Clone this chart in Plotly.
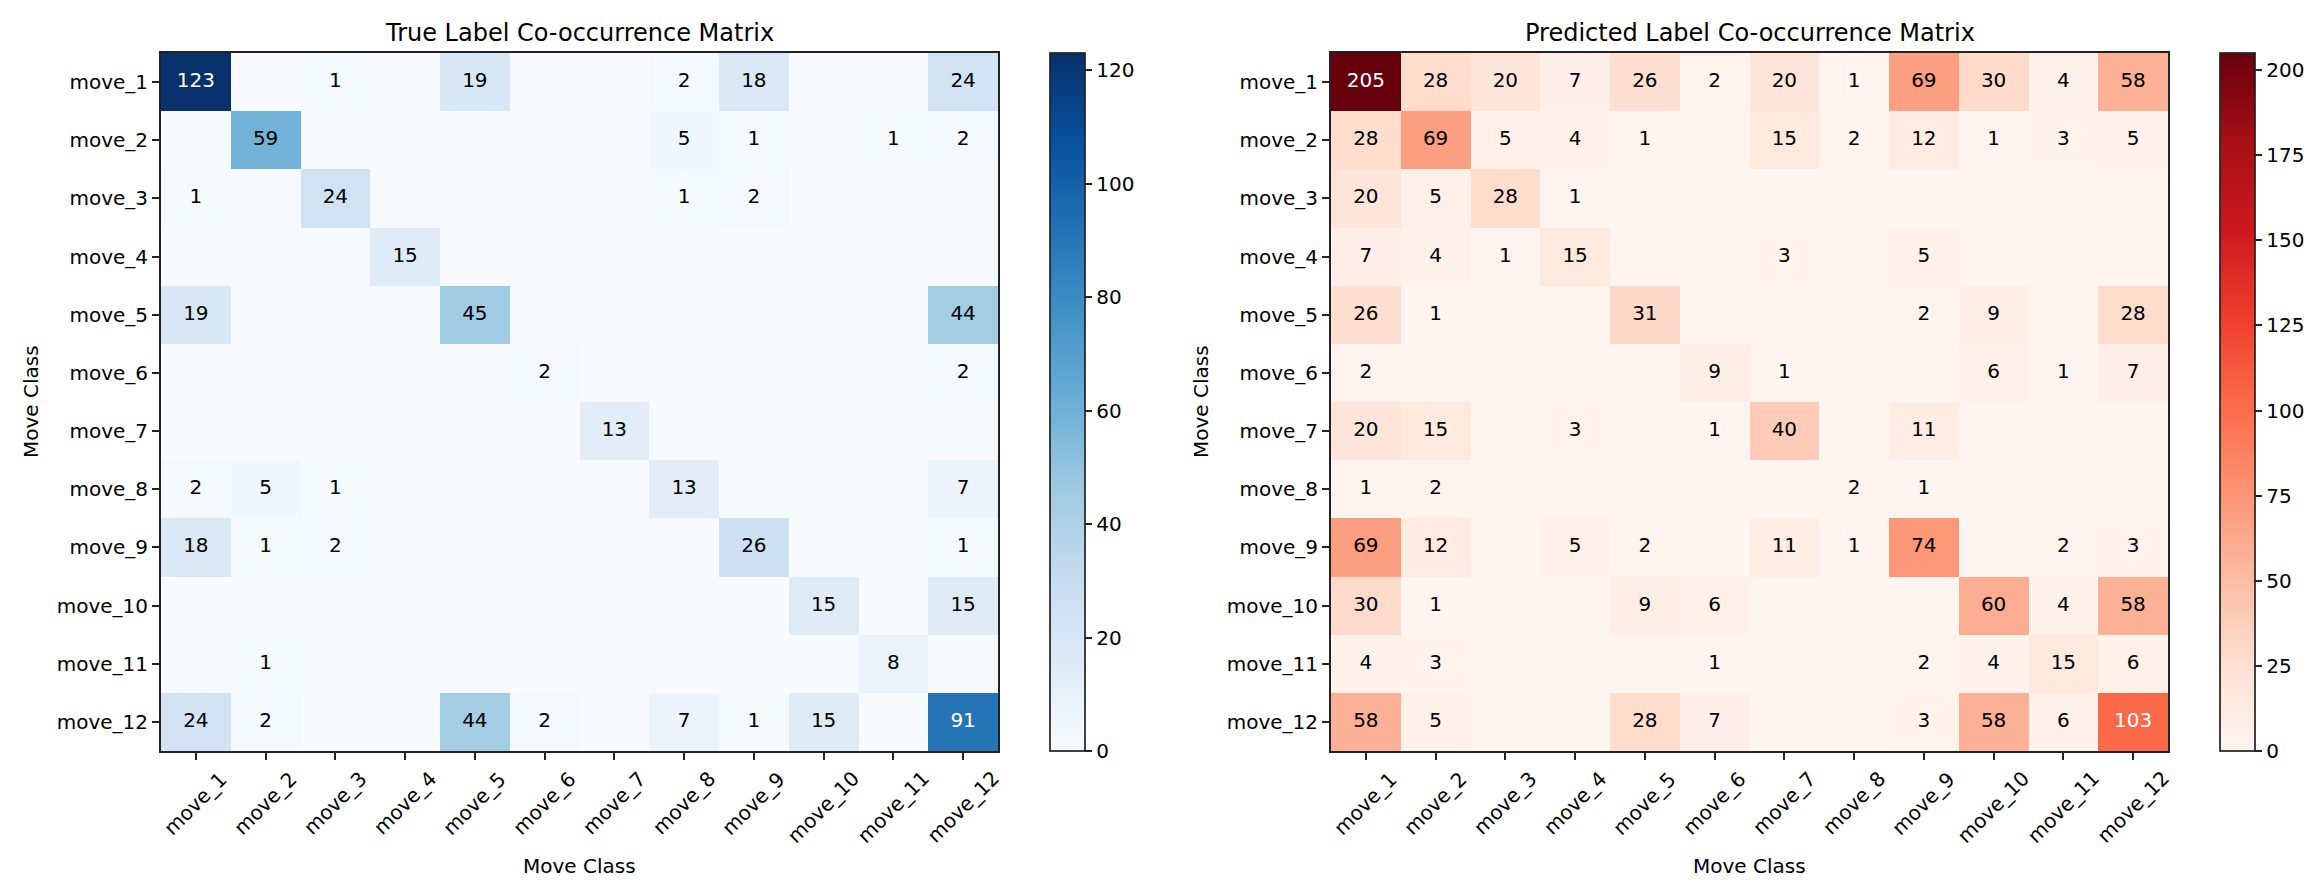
import plotly.graph_objects as go

labels = [f"move_{i}" for i in range(1, 13)]

true_matrix = [
    [123, 0, 1, 0, 19, 0, 0, 2, 18, 0, 0, 24],
    [0, 59, 0, 0, 0, 0, 0, 5, 1, 0, 1, 2],
    [1, 0, 24, 0, 0, 0, 0, 1, 2, 0, 0, 0],
    [0, 0, 0, 15, 0, 0, 0, 0, 0, 0, 0, 0],
    [19, 0, 0, 0, 45, 0, 0, 0, 0, 0, 0, 44],
    [0, 0, 0, 0, 0, 2, 0, 0, 0, 0, 0, 2],
    [0, 0, 0, 0, 0, 0, 13, 0, 0, 0, 0, 0],
    [2, 5, 1, 0, 0, 0, 0, 13, 0, 0, 0, 7],
    [18, 1, 2, 0, 0, 0, 0, 0, 26, 0, 0, 1],
    [0, 0, 0, 0, 0, 0, 0, 0, 0, 15, 0, 15],
    [0, 1, 0, 0, 0, 0, 0, 0, 0, 0, 8, 0],
    [24, 2, 0, 0, 44, 2, 0, 7, 1, 15, 0, 91],
]

pred_matrix = [
    [205, 28, 20, 7, 26, 2, 20, 1, 69, 30, 4, 58],
    [28, 69, 5, 4, 1, 0, 15, 2, 12, 1, 3, 5],
    [20, 5, 28, 1, 0, 0, 0, 0, 0, 0, 0, 0],
    [7, 4, 1, 15, 0, 0, 3, 0, 5, 0, 0, 0],
    [26, 1, 0, 0, 31, 0, 0, 0, 2, 9, 0, 28],
    [2, 0, 0, 0, 0, 9, 1, 0, 0, 6, 1, 7],
    [20, 15, 0, 3, 0, 1, 40, 0, 11, 0, 0, 0],
    [1, 2, 0, 0, 0, 0, 0, 2, 1, 0, 0, 0],
    [69, 12, 0, 5, 2, 0, 11, 1, 74, 0, 2, 3],
    [30, 1, 0, 0, 9, 6, 0, 0, 0, 60, 4, 58],
    [4, 3, 0, 0, 0, 1, 0, 0, 2, 4, 15, 6],
    [58, 5, 0, 0, 28, 7, 0, 0, 3, 58, 6, 103],
]

blues = ['rgb(247,251,255)', 'rgb(222,235,247)', 'rgb(198,219,239)', 'rgb(158,202,225)',
         'rgb(107,174,214)', 'rgb(66,146,198)', 'rgb(33,113,181)', 'rgb(8,81,156)', 'rgb(8,48,107)']
reds = ['rgb(255,245,240)', 'rgb(254,224,210)', 'rgb(252,187,161)', 'rgb(252,146,114)',
        'rgb(251,106,74)', 'rgb(239,59,44)', 'rgb(203,24,29)', 'rgb(165,15,21)', 'rgb(103,0,13)']

W, H = 2316, 884
FONT = "DejaVu Sans"
FS = 20


def px_x(v):
    return v / W


def px_y(v):
    return 1 - v / H


panels = [
    dict(mat=true_matrix, cs=blues, dtick=20, title="True Label Co-occurrence Matrix",
         x0=153, x1=990, cb=1042, xa="x", ya="y"),
    dict(mat=pred_matrix, cs=reds, dtick=25, title="Predicted Label Co-occurrence Matrix",
         x0=1323, x1=2160, cb=2212, xa="x2", ya="y2"),
]

top, bottom = 45, 743

fig = go.Figure()
annotations = []
layout_axes = {}

for i, p in enumerate(panels):
    mat = p["mat"]
    zmax = max(max(r) for r in mat)
    fig.add_trace(go.Heatmap(
        z=mat, x=labels, y=labels, xaxis=p["xa"], yaxis=p["ya"],
        colorscale=[[k / (len(p["cs"]) - 1), c] for k, c in enumerate(p["cs"])],
        zmin=0, zmax=zmax, hoverinfo="skip",
        colorbar=dict(
            x=px_x(p["cb"]), xanchor="left", xref="paper",
            y=px_y(bottom), yanchor="bottom", yref="paper",
            len=(bottom - top) / H, lenmode="fraction",
            thickness=35, thicknessmode="pixels",
            outlinewidth=1.7, outlinecolor="#222",
            ticks="outside", ticklen=7, tickwidth=1.7, tickcolor="#222",
            tick0=0, dtick=p["dtick"],
            tickfont=dict(family=FONT, size=FS, color="black"),
            xpad=0, ypad=0,
        ),
    ))
    xs, ys, ts, cs = [], [], [], []
    for r, row in enumerate(mat):
        for c, v in enumerate(row):
            if v > 0:
                xs.append(labels[c])
                ys.append(labels[r])
                ts.append(str(v))
                cs.append("white" if v > zmax / 2 else "black")
    fig.add_trace(go.Scatter(
        x=xs, y=ys, text=ts, mode="text", xaxis=p["xa"], yaxis=p["ya"],
        textfont=dict(family=FONT, size=FS, color=cs), hoverinfo="skip", showlegend=False,
    ))
    sx = "" if i == 0 else "2"
    layout_axes[f"xaxis{sx}"] = dict(
        domain=[px_x(p["x0"]), px_x(p["x1"])], anchor=f"y{sx}",
        range=[-0.5, 11.5], type="category", showticklabels=False,
        ticks="outside", ticklen=7, tickwidth=1.7, tickcolor="#222",
        showline=True, linecolor="#222", linewidth=2, mirror=True,
        showgrid=False, zeroline=False,
    )
    layout_axes[f"yaxis{sx}"] = dict(
        domain=[px_y(bottom), px_y(top)], anchor=f"x{sx}",
        range=[11.5, -0.5], type="category",
        ticks="outside", ticklen=7, tickwidth=1.7, tickcolor="#222",
        showline=True, linecolor="#222", linewidth=2, mirror=True,
        showgrid=False, zeroline=False,
        tickfont=dict(family=FONT, size=FS, color="black"),
    )
    for lab in labels:
        annotations.append(dict(text=lab, x=lab, xref=p["xa"], y=px_y(756), yref="paper",
                                textangle=-45, showarrow=False, xanchor="center", yanchor="top",
                                font=dict(family=FONT, size=FS, color="black")))
    cx = (p["x0"] + p["x1"]) / 2
    annotations.append(dict(text=p["title"], x=px_x(cx), y=px_y(25), xref="paper", yref="paper",
                            showarrow=False, xanchor="center", yanchor="middle",
                            font=dict(family=FONT, size=24, color="black")))
    annotations.append(dict(text="Move Class", x=px_x(cx), y=px_y(858), xref="paper", yref="paper",
                            showarrow=False, xanchor="center", yanchor="middle",
                            font=dict(family=FONT, size=FS, color="black")))
    annotations.append(dict(text="Move Class", x=px_x(p["x0"] - 130), y=px_y((top + bottom) / 2),
                            xref="paper", yref="paper", textangle=-90,
                            showarrow=False, xanchor="center", yanchor="middle",
                            font=dict(family=FONT, size=FS, color="black")))

fig.update_layout(
    width=W, height=H, margin=dict(l=0, r=0, t=0, b=0),
    paper_bgcolor="white", plot_bgcolor="white",
    showlegend=False, annotations=annotations, **layout_axes,
)

fig.write_html("out.html")
